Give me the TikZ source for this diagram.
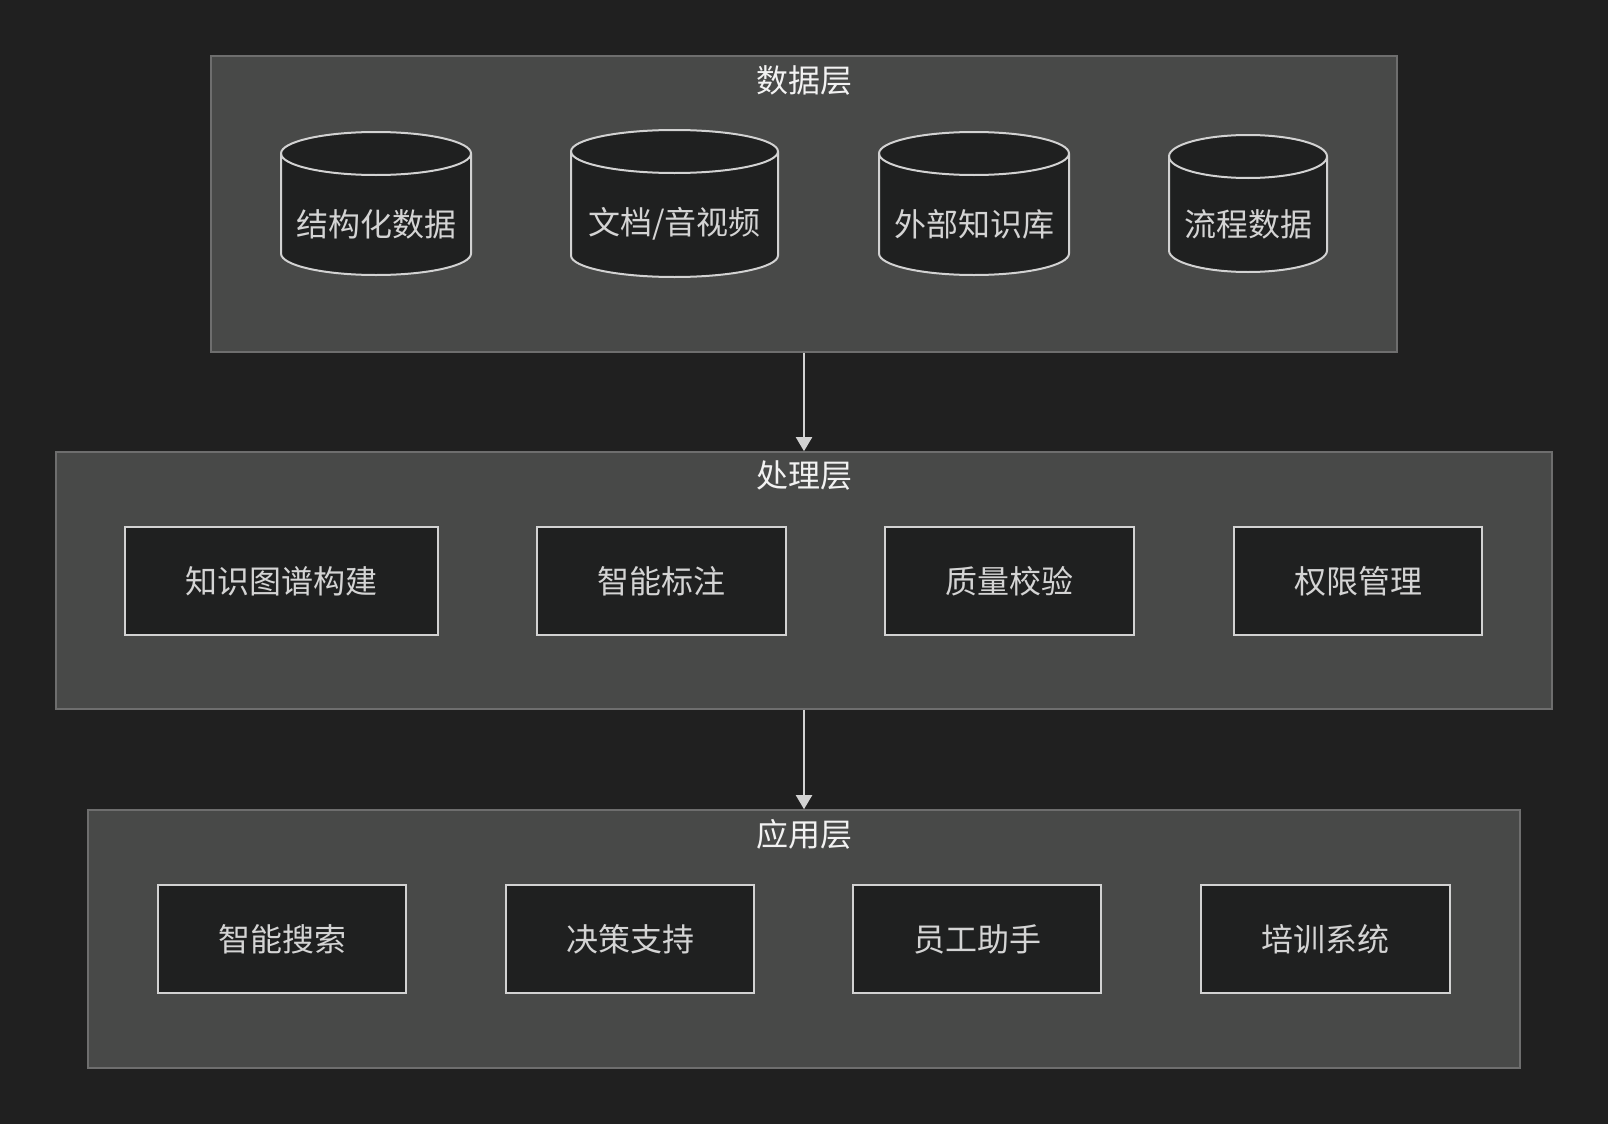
\documentclass[tikz,border=0pt]{standalone}
\usepackage{fontspec}
\setmainfont{Noto Sans CJK SC}
\usetikzlibrary{arrows.meta}
\definecolor{canvas}{HTML}{202020}
\definecolor{layerfill}{HTML}{484948}
\definecolor{layerline}{HTML}{6E6E6E}
\definecolor{itemfill}{HTML}{1F2020}
\definecolor{itemline}{HTML}{D2D2D2}
\definecolor{itemtext}{HTML}{D4D4D4}
\definecolor{titletext}{HTML}{F2F2F2}
\tikzset{
  layer/.style={draw=layerline, fill=layerfill, line width=1.6pt, inner sep=0pt},
  layertitle/.style={text=titletext, font=\fontsize{32}{36}\selectfont, inner sep=0pt},
  itembox/.style={draw=itemline, fill=itemfill, line width=2pt, minimum height=108pt,
                  text=itemtext, font=\fontsize{32}{36}\selectfont, inner sep=0pt},
  cylline/.style={draw=itemline, fill=itemfill, line width=2pt},
  cyltext/.style={text=itemtext, font=\fontsize{32}{36}\selectfont, inner sep=0pt},
  flow/.style={draw=itemline, line width=2pt, -{Triangle[width=16pt,length=14pt]}, shorten >=0pt}
}
% ellipse half height of the cylinder caps
\def\cry{21.5}
% #1 name, #2 centre x, #3 top y, #4 bottom y, #5 width, #6 label, #7 label y
\newcommand\dbcyl[7]{%
  \draw[cylline] ({#2-#5/2},{-(#3+\cry)}) -- ({#2-#5/2},{-(#4-\cry)})
    arc[start angle=180,end angle=360,x radius={#5/2},y radius=\cry]
    -- ({#2+#5/2},{-(#3+\cry)})
    arc[start angle=0,end angle=180,x radius={#5/2},y radius=\cry] -- cycle;
  \draw[cylline, fill=none] ({#2-#5/2},{-(#3+\cry)})
    arc[start angle=180,end angle=360,x radius={#5/2},y radius=\cry];
  \node[cyltext] (#1) at (#2,-#7) {#6};
}
\begin{document}
\begin{tikzpicture}[x=1pt,y=1pt]
\fill[canvas] (0,0) rectangle (1608,-1124);
\useasboundingbox (0,0) rectangle (1608,-1124);

% layer frames
\node[layer, minimum width=1186pt, minimum height=296pt] (data) at (804,-204) {};
\node[layer, minimum width=1496pt, minimum height=257pt] (proc) at (804,-580.5) {};
\node[layer, minimum width=1432pt, minimum height=258pt] (app) at (804,-939) {};

\node[layertitle] (datat) at (804,-80) {数据层};
\node[layertitle] (proct) at (804,-476) {处理层};
\node[layertitle] (appt) at (804,-834) {应用层};

% data sources
\dbcyl{d1}{376}{132}{275}{190}{结构化数据}{224}
\dbcyl{d2}{674.5}{130}{277}{207}{文档/音视频}{224}
\dbcyl{d3}{974}{132}{275}{190}{外部知识库}{224}
\dbcyl{d4}{1248}{135}{272}{158}{流程数据}{224}

% processing steps
\node[itembox, minimum width=313pt] (p1) at (281.5,-581) {知识图谱构建};
\node[itembox, minimum width=249pt] (p2) at (661.5,-581) {智能标注};
\node[itembox, minimum width=249pt] (p3) at (1009.5,-581) {质量校验};
\node[itembox, minimum width=248pt] (p4) at (1358,-581) {权限管理};

% applications
\node[itembox, minimum width=248pt] (a1) at (282,-939) {智能搜索};
\node[itembox, minimum width=248pt] (a2) at (630,-939) {决策支持};
\node[itembox, minimum width=248pt] (a3) at (977,-939) {员工助手};
\node[itembox, minimum width=249pt] (a4) at (1325.5,-939) {培训系统};

% flow between layers
\draw[flow] (data.south) -- (proc.north);
\draw[flow] (proc.south) -- (app.north);
\end{tikzpicture}
\end{document}
